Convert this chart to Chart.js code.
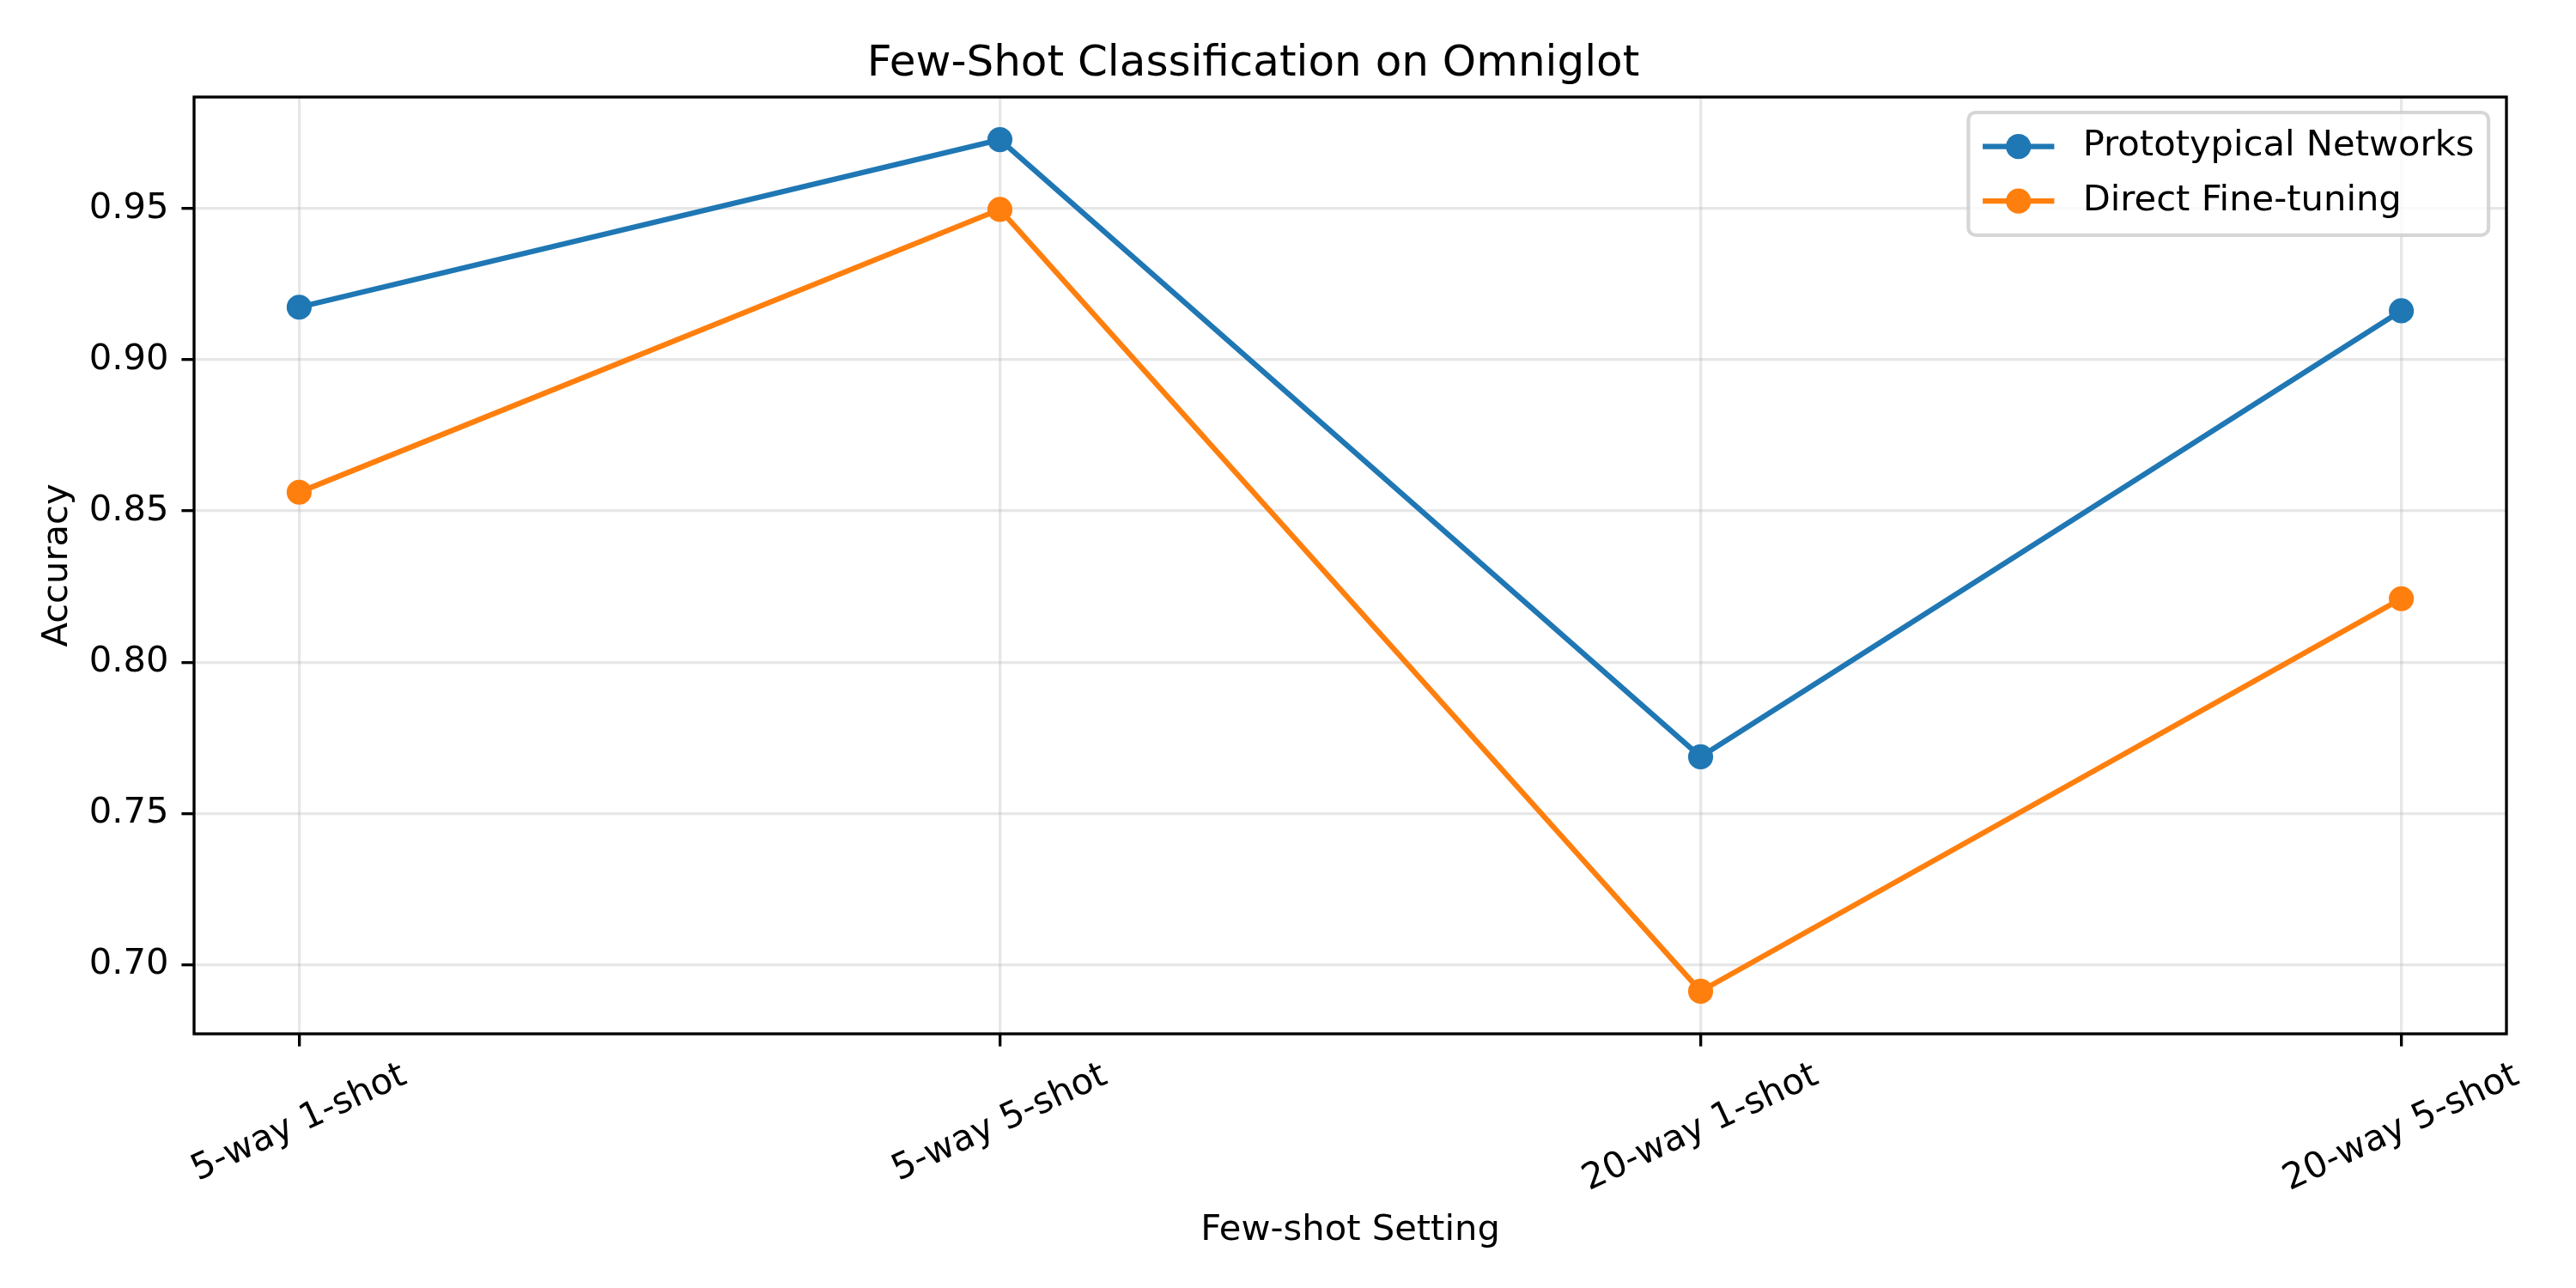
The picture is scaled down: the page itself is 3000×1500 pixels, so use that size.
<!DOCTYPE html>
<html>
<head>
<meta charset="utf-8">
<title>Few-Shot Classification on Omniglot</title>
<script src="https://cdn.jsdelivr.net/npm/chart.js@4.4.1/dist/chart.umd.min.js"></script>
<style>
    html, body { margin: 0; padding: 0; background: #ffffff; }
    #wrap { width: 3000px; height: 1500px; }
</style>
</head>
<body>
<div id="wrap"><canvas id="accChart" width="3000" height="1500"></canvas></div>
<script>
// ============================
// Data
// ============================
const settings = ["5-way 1-shot", "5-way 5-shot", "20-way 1-shot", "20-way 5-shot"];
const protoNetAcc = [0.9174, 0.9728, 0.7687, 0.9162];
const fineTuneAcc = [0.8562, 0.9497, 0.6912, 0.8210];
const yTicks = [0.70, 0.75, 0.80, 0.85, 0.90, 0.95];
const seriesNames = ["Prototypical Networks", "Direct Fine-tuning"];
const seriesColors = ["#1f77b4", "#ff7f0e"];

// ============================
// Sizes (figure is 10x5 in at 300 dpi)
// ============================
const PT = 300 / 72;
const FONT = "'DejaVu Sans', sans-serif";
const FS = 10 * PT;
const GRID = "rgba(176,176,176,0.3)";

// axis ranges with the usual 5% margin
const allVals = protoNetAcc.concat(fineTuneAcc);
const yLo = Math.min(...allVals), yHi = Math.max(...allVals);
const yPad = (yHi - yLo) * 0.05;
const xPad = (settings.length - 1) * 0.05;

Chart.defaults.font.family = FONT;
Chart.defaults.color = "#000";

// ============================
// Plugins
// ============================

// black box around the plot area
const frame = {
    id: "frame",
    afterDatasetsDraw(chart) {
        const { ctx, chartArea: a } = chart;
        ctx.save();
        ctx.strokeStyle = "#000";
        ctx.lineWidth = 0.8 * PT;
        ctx.strokeRect(a.left, a.top, a.right - a.left, a.bottom - a.top);
        ctx.restore();
    }
};

// rotated, centred category labels under the x ticks
const xTickLabels = {
    id: "xTickLabels",
    afterDraw(chart) {
        const { ctx } = chart;
        const xs = chart.scales.x;
        const ang = 25 * Math.PI / 180;
        const top = chart.chartArea.bottom + 7 * PT;

        ctx.save();
        ctx.font = FS + "px " + FONT;
        ctx.fillStyle = "#000";
        ctx.textAlign = "center";
        ctx.textBaseline = "middle";

        settings.forEach((lab, i) => {
            const w = ctx.measureText(lab).width;
            const h = FS * 0.95;
            const cy = top + (w * Math.sin(ang) + h * Math.cos(ang)) / 2;
            ctx.save();
            ctx.translate(xs.getPixelForValue(i), cy);
            ctx.rotate(-ang);
            ctx.fillText(lab, 0, 0);
            ctx.restore();
        });
        ctx.restore();
    }
};

// legend box in the upper right corner
const legendBox = {
    id: "legendBox",
    afterDraw(chart) {
        const { ctx, chartArea } = chart;
        const items = chart.data.datasets;
        const pad = 0.4 * FS;
        const handleLen = 2 * FS;
        const handleGap = 0.8 * FS;
        const rowH = 46;
        const rowStep = 63.5;

        ctx.save();
        ctx.font = FS + "px " + FONT;
        const textW = Math.max(...items.map(d => ctx.measureText(d.label).width));
        const boxW = pad * 2 + handleLen + handleGap + textW;
        const boxH = pad * 2 + rowH + rowStep * (items.length - 1);
        const right = chartArea.right - 0.5 * FS;
        const left = right - boxW;
        const top = chartArea.top + 18;

        ctx.beginPath();
        ctx.roundRect(left, top, boxW, boxH, 0.2 * FS);
        ctx.fillStyle = "rgba(255,255,255,0.8)";
        ctx.fill();
        ctx.lineWidth = 1.0 * PT;
        ctx.strokeStyle = "rgba(204,204,204,0.8)";
        ctx.stroke();

        items.forEach((d, i) => {
            const cy = top + pad + rowH / 2 + i * rowStep;
            const x0 = left + pad;

            ctx.beginPath();
            ctx.moveTo(x0, cy);
            ctx.lineTo(x0 + handleLen, cy);
            ctx.strokeStyle = d.borderColor;
            ctx.lineWidth = d.borderWidth;
            ctx.stroke();

            ctx.beginPath();
            ctx.arc(x0 + handleLen / 2, cy, d.pointRadius, 0, Math.PI * 2);
            ctx.fillStyle = d.pointBackgroundColor;
            ctx.fill();

            ctx.fillStyle = "#000";
            ctx.textAlign = "left";
            ctx.textBaseline = "middle";
            ctx.fillText(d.label, x0 + handleLen + handleGap, cy);
        });
        ctx.restore();
    }
};

// ============================
// Chart
// ============================
function makeSeries(name, color, values) {
    return {
        label: name,
        data: values.map((v, i) => ({ x: i, y: v })),
        borderColor: color,
        backgroundColor: color,
        pointBackgroundColor: color,
        borderWidth: 1.5 * PT,
        pointRadius: 3.5 * PT,
        pointHoverRadius: 3.5 * PT,
        pointBorderWidth: 0,
        tension: 0
    };
}

new Chart(document.getElementById("accChart"), {
    type: "line",
    data: {
        datasets: [
            makeSeries(seriesNames[0], seriesColors[0], protoNetAcc),
            makeSeries(seriesNames[1], seriesColors[1], fineTuneAcc)
        ]
    },
    options: {
        responsive: false,
        devicePixelRatio: 1,
        animation: false,
        events: [],
        layout: {
            padding: { left: 0, right: 81, top: 0, bottom: 0 }
        },
        plugins: {
            legend: { display: false },
            tooltip: { enabled: false },
            title: {
                display: true,
                text: "Few-Shot Classification on Omniglot",
                color: "#000",
                font: { size: 12 * PT, weight: "normal", lineHeight: 1.2 },
                padding: { top: 45, bottom: 8 }
            }
        },
        scales: {
            x: {
                type: "linear",
                min: -xPad,
                max: settings.length - 1 + xPad,
                afterBuildTicks: s => { s.ticks = settings.map((_, i) => ({ value: i })); },
                afterFit: s => { s.height = 296; },
                border: { display: false },
                grid: {
                    color: GRID,
                    lineWidth: 0.8 * PT,
                    drawTicks: true,
                    tickLength: 3.5 * PT,
                    tickColor: "#000",
                    tickWidth: 0.8 * PT
                },
                ticks: { display: false },
                title: {
                    display: true,
                    text: "Few-shot Setting",
                    color: "#000",
                    font: { size: FS, lineHeight: 1.2 },
                    padding: { top: 0, bottom: 42 }
                }
            },
            y: {
                type: "linear",
                min: yLo - yPad,
                max: yHi + yPad,
                afterBuildTicks: s => { s.ticks = yTicks.map(v => ({ value: v })); },
                afterFit: s => { s.width = 226; },
                border: { display: false },
                grid: {
                    color: GRID,
                    lineWidth: 0.8 * PT,
                    drawTicks: true,
                    tickLength: 3.5 * PT,
                    tickColor: "#000",
                    tickWidth: 0.8 * PT
                },
                ticks: {
                    color: "#000",
                    font: { size: FS },
                    padding: 15,
                    callback: v => v.toFixed(2)
                },
                title: {
                    display: true,
                    text: "Accuracy",
                    color: "#000",
                    font: { size: FS, lineHeight: 1.2 },
                    padding: { top: 42, bottom: 0 }
                }
            }
        }
    },
    plugins: [frame, xTickLabels, legendBox]
});
</script>
</body>
</html>
